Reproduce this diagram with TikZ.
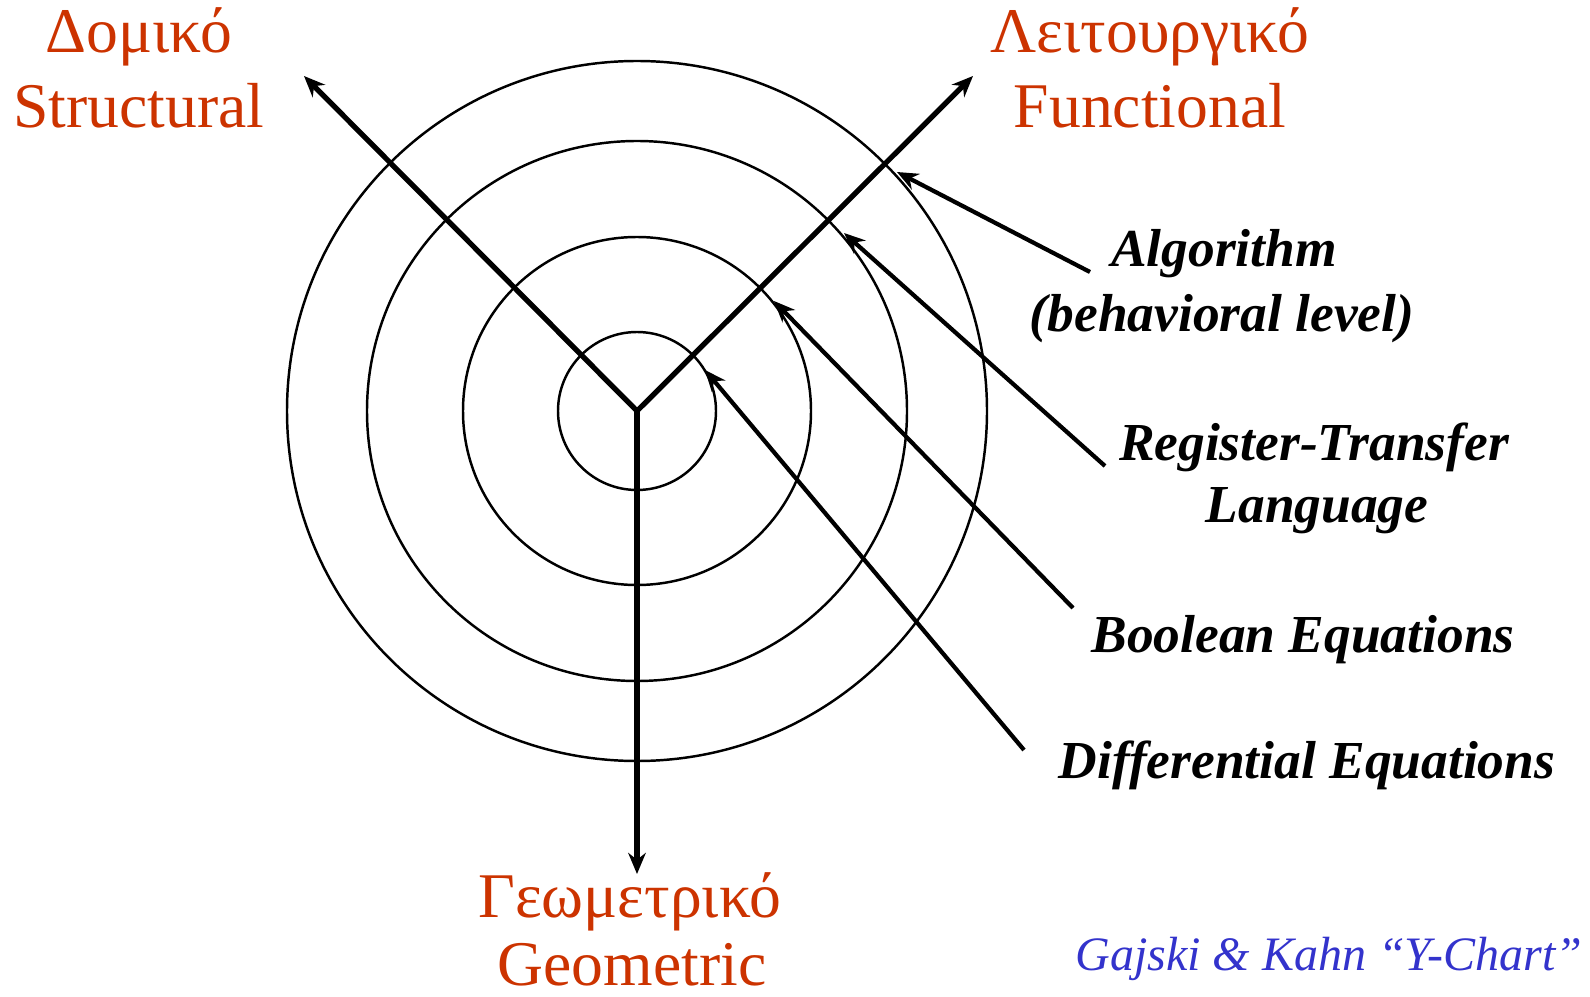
\documentclass[tikz,border=0pt]{standalone}
\usepackage{fontspec}
\setmainfont{Liberation Serif}
\usetikzlibrary{arrows.meta}
\definecolor{viewred}{RGB}{204,51,0}
\definecolor{noteblue}{RGB}{51,51,204}
\begin{document}
\begin{tikzpicture}[x=0.01cm, y=-0.01cm,
  axis/.style={line width=1.5pt, line cap=round, -{Stealth[length=6pt,width=5pt]}},
  pointer/.style={line width=1.2pt, -{Stealth[length=6pt,width=5pt]}},
  ring/.style={line width=0.7pt},
  view/.style={text=viewred, font=\fontsize{18.1}{20}\selectfont, anchor=base, inner sep=0pt},
  level/.style={font=\fontsize{15.2}{17}\selectfont\bfseries\itshape, anchor=base, inner sep=0pt}]
  \useasboundingbox (0,0) rectangle (1590,997);
  \coordinate (O) at (637,411);
  \foreach \r in {79,174,270,350}
    \draw[ring] (O) circle [radius=\r];
  \coordinate (structTip) at (304,76);
  \coordinate (funcTip) at (973,76);
  \coordinate (geoTip) at (637,874);
  \draw[axis] (O) -- (structTip);
  \draw[axis] (O) -- (funcTip);
  \draw[axis] (O) -- (geoTip);
  \node[view] (structGr) at (139,53) {Δομικό};
  \node[view] (struct) at (139,128) {Structural};
  \node[view] (funcGr) at (1150,53) {Λειτουργικό};
  \node[view] (func) at (1150,128) {Functional};
  \node[view] (geoGr) at (630,917) {Γεωμετρικό};
  \node[view] (geo) at (632,985) {Geometric};
  \node[level] (alg) at (1224,267) {Algorithm};
  \node[level] (behav) at (1222,332) {(behavioral level)};
  \node[level] (rtl) at (1314,460) {Register-Transfer};
  \node[level] (lang) at (1317,522) {Language};
  \node[level] (bool) at (1303,652) {Boolean Equations};
  \node[level] (diff) at (1307,778) {Differential Equations};
  \coordinate (algFrom) at (1090,272);  \coordinate (algTo) at (897,172);
  \coordinate (rtlFrom) at (1105,466);  \coordinate (rtlTo) at (844,233);
  \coordinate (boolFrom) at (1073,608); \coordinate (boolTo) at (774,301);
  \coordinate (diffFrom) at (1024,750); \coordinate (diffTo) at (705,370);
  \draw[pointer] (algFrom) -- (algTo);
  \draw[pointer] (rtlFrom) -- (rtlTo);
  \draw[pointer] (boolFrom) -- (boolTo);
  \draw[pointer] (diffFrom) -- (diffTo);
  \node[text=noteblue, font=\fontsize{13.65}{16}\selectfont\itshape, anchor=base, inner sep=0pt]
    (ychart) at (1329,970) {Gajski \& Kahn “Y-Chart”};
\end{tikzpicture}
\end{document}
